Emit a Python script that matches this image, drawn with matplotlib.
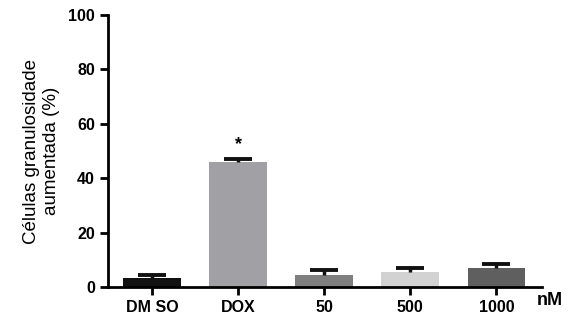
import matplotlib
matplotlib.use("Agg")
import matplotlib.pyplot as plt
import numpy as np

plt.rcParams["font.family"] = ["Liberation Sans", "DejaVu Sans"]

categories = ["DMSO", "DOX", "50", "500", "1000"]
means = [3.3, 45.8, 4.3, 5.5, 7.0]
errors = [1.2, 1.1, 1.9, 1.5, 1.4]
colors = ["#111111", "#a1a1a5", "#7f7f7f", "#d2d2d2", "#5f5f5f"]

fig = plt.figure(figsize=(5.81, 3.2), dpi=100)
ax = fig.add_axes([108 / 581, 1 - 287 / 320, 434 / 581, 272 / 320])

x = np.arange(len(categories))
ax.bar(x, means, width=0.67, color=colors, zorder=2)
_, caps, _ = ax.errorbar(x, means, yerr=[np.zeros(len(errors)), errors], fmt="none",
                         ecolor="#111111", elinewidth=2.5, capsize=10, capthick=2.8,
                         zorder=3)
caps[0].set_visible(False)  # one-sided bars: no cap at the bar top

# significance mark above DOX
ax.text(x[1], means[1] + errors[1] + 2.5, "*", ha="center", va="bottom",
        fontsize=13, fontweight="bold")

ax.set_xlim(-0.51, 4.53)
ax.set_ylim(0, 100)
ax.set_yticks([0, 20, 40, 60, 80, 100])
ax.set_xticks(x)
ax.set_xticklabels(["DM SO", "DOX", "50", "500", "1000"])

for s in ["top", "right"]:
    ax.spines[s].set_visible(False)
for s in ["left", "bottom"]:
    ax.spines[s].set_linewidth(2)
ax.tick_params(width=2, length=6, labelsize=11.5, direction="out")
for lab in ax.get_xticklabels() + ax.get_yticklabels():
    lab.set_fontweight("bold")

ax.set_ylabel("Células granulosidade\naumentada (%)", fontsize=13.5, labelpad=6)
ax.text(0.988, -0.02, "nM", transform=ax.transAxes, ha="left", va="top",
        fontsize=13, fontweight="bold")

fig.savefig("out.png", dpi=100)
